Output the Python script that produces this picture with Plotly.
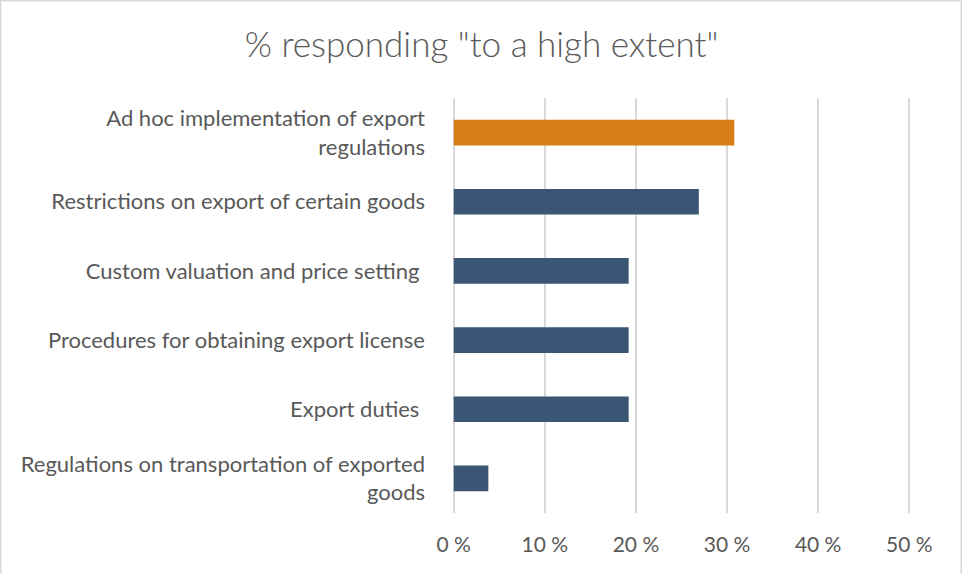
import plotly.graph_objects as go

# Share of respondents answering "to a high extent"
categories = [
    "Ad hoc implementation of export<br>regulations",
    "Restrictions on export of certain goods",
    "Custom valuation and price setting ",
    "Procedures for obtaining export license",
    "Export duties ",
    "Regulations on transportation of exported<br>goods",
]
values = [30.8, 26.9, 19.2, 19.2, 19.2, 3.8]
highlight = [True, False, False, False, False, False]
tick_vals = [0, 10, 20, 30, 40, 50]
tick_text = ["0 %", "10 %", "20 %", "30 %", "40 %", "50 %"]

ORANGE = "#D67E17"
BLUE = "#3A5674"
TEXT = "#595959"
GRID = "#D9D9D9"
FONT = "Lato, 'Open Sans', sans-serif"

bar_colors = [ORANGE if h else BLUE for h in highlight]

fig = go.Figure(
    go.Bar(
        x=values,
        y=categories,
        orientation="h",
        marker=dict(color=bar_colors, line=dict(width=0)),
        width=0.37,
        hoverinfo="x+y",
    )
)

W, H = 963, 574
# padding on the value range so the 0 % and 50 % grid lines are drawn
pad = 0.3
ml, mr, mt, mb = 451, 51, 98, 61

fig.update_layout(
    width=W,
    height=H,
    margin=dict(l=ml, r=mr, t=mt, b=mb, pad=0),
    paper_bgcolor="white",
    plot_bgcolor="white",
    showlegend=False,
    font=dict(family=FONT, color=TEXT, size=22),
    title=dict(
        text='% responding "to a high extent"',
        x=0.5,
        xanchor="center",
        y=1 - 45 / H,
        yanchor="middle",
        font=dict(size=35, color=TEXT, family=FONT, weight=300),
    ),
    xaxis=dict(
        range=[-pad, 50 + pad],
        tickvals=tick_vals,
        ticktext=tick_text,
        showgrid=True,
        gridcolor=GRID,
        gridwidth=1.5,
        zeroline=True,
        zerolinecolor=GRID,
        zerolinewidth=1.5,
        showline=False,
        ticks="",
        ticklabelstandoff=17,
        tickfont=dict(size=21, color=TEXT),
        fixedrange=True,
    ),
    yaxis=dict(
        autorange="reversed",
        showgrid=False,
        zeroline=False,
        showline=False,
        ticks="",
        ticklabelstandoff=25,
        tickfont=dict(size=22, color=TEXT),
        fixedrange=True,
    ),
)

# light frame around the chart (left, top, right; bottom runs off the page)
pw, ph = W - ml - mr, H - mt - mb
fig.add_shape(
    type="rect",
    xref="paper",
    yref="paper",
    x0=(0.75 - ml) / pw,
    x1=(W - 1.75 - ml) / pw,
    y0=(-4 - mb) / ph,
    y1=(H - 0.75 - mb) / ph,
    line=dict(color=GRID, width=1.5),
    fillcolor="rgba(0,0,0,0)",
    layer="below",
)

fig.write_html("out.html")
